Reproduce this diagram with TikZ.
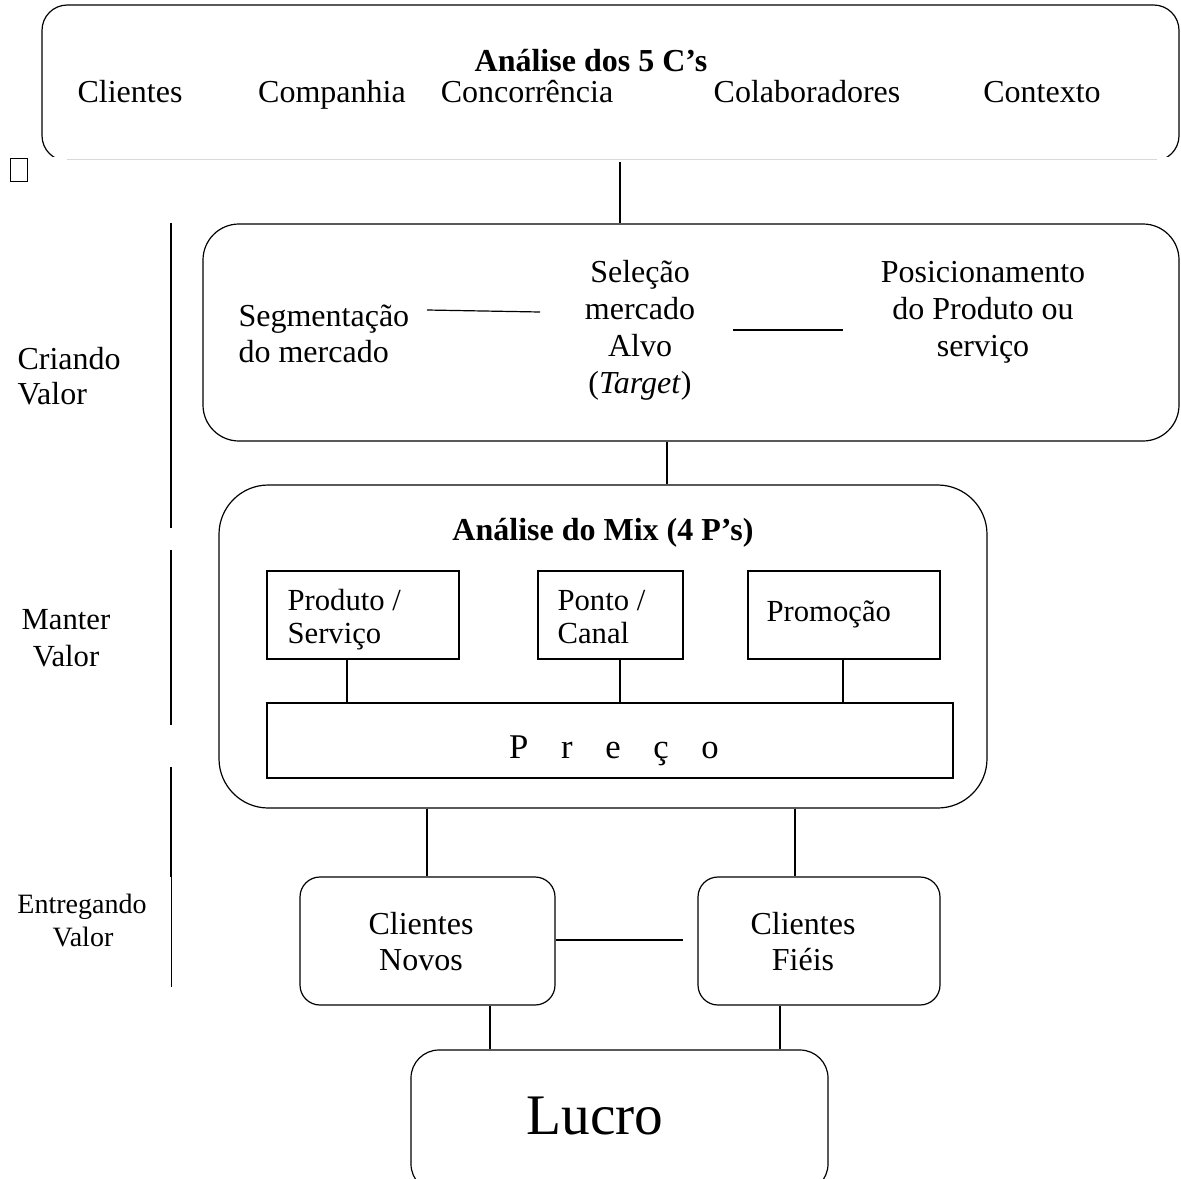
\documentclass[tikz,border=0pt]{standalone}
\usepackage{fontspec}
\setmainfont{Liberation Serif}
\usetikzlibrary{fit}
\begin{document}
\begin{tikzpicture}[x=0.75pt,y=-0.75pt,line width=0.9pt,
  rbox/.style={draw,inner sep=0pt,rounded corners=#1},
  sbox/.style={draw,inner sep=0pt},
  txt/.style={inner sep=0pt,anchor=base,font=\fontsize{24}{28}\selectfont},
  txtl/.style={txt,anchor=base west},
  small/.style={font=\fontsize{23}{27}\selectfont},
  conn/.style={line width=0.9pt},
  sep/.style={line width=0.9pt}]
\useasboundingbox (0,0) rectangle (1181,1178);
\fill[white] (0,0) rectangle (1181,1178);
% top box (bottom clipped)
\begin{scope}
\clip (0,0) rectangle (1181,156.5);
\node[rbox=19pt,fit={(42,5) (1179,161)}] (top) {};
\end{scope}
\coordinate (gA) at (67,159);
\coordinate (gB) at (1157,159);
\draw[line width=0.6pt,black!15] (gA) -- (gB);
\node[draw,line width=0.6pt,inner sep=0pt,fit={(10,158) (27,181)}] (sq) {};
\node[txt] (t5c) at (591,71) {\textbf{Análise dos 5 C’s}};
\node[txt] (c1) at (130,102) {Clientes};
\node[txt] (c2) at (332,102) {Companhia};
\node[txt] (c3) at (527,102) {Concorrência};
\node[txt] (c4) at (807,102) {Colaboradores};
\node[txt] (c5) at (1042,102) {Contexto};
% STP box
\node[rbox=27pt,fit={(203,224) (1179,441)}] (stp) {};
\node[txtl] (s1a) at (238,326) {Segmentação};
\node[txtl] (s1b) at (238,362) {do mercado};
\node[txt] (s2a) at (640,282) {Seleção};
\node[txt] (s2b) at (640,319) {mercado};
\node[txt] (s2c) at (640,356) {Alvo};
\node[txt] (s2d) at (640,393) {(\textit{Target})};
\node[txt] (s3a) at (983,282) {Posicionamento};
\node[txt] (s3b) at (983,319) {do Produto ou};
\node[txt] (s3c) at (983,356) {serviço};
\coordinate (la) at (427,310);
\coordinate (lb) at (540,312);
\coordinate (lc) at (733,330);
\coordinate (ld) at (843,330);
\draw[conn] (la) -- (lb);
\draw[conn] (lc) -- (ld);
% Mix box
\node[rbox=37pt,fit={(219,485) (987,808)}] (mix) {};
\node[txt] (mixt) at (603,540) {\textbf{Análise do Mix (4 P’s)}};
\node[sbox,fit={(267,571) (459,659)}] (prod) {};
\node[sbox,fit={(538,571) (683,659)}] (ponto) {};
\node[sbox,fit={(748,571) (940,659)}] (promo) {};
\node[sbox,fit={(267,703) (953,778)}] (preco) {};
\node[txtl,small] (p1a) at (287,610) {Produto /};
\node[txtl,small] (p1b) at (287,643) {Serviço};
\node[txtl,small] (p2a) at (557,610) {Ponto /};
\node[txtl,small] (p2b) at (557,643) {Canal};
\node[txtl,small] (p3) at (766,621) {Promoção};
\node[txt,font=\fontsize{26}{30}\selectfont] (pr) at (614,758) {P\hspace{24.5pt}r\hspace{24.5pt}e\hspace{24.5pt}ç\hspace{24.5pt}o};
\draw[conn] (prod.south -| 347,0) -- (preco.north -| 347,0);
\draw[conn] (ponto.south -| 620,0) -- (preco.north -| 620,0);
\draw[conn] (promo.south -| 843,0) -- (preco.north -| 843,0);
% clients
\node[rbox=15pt,fit={(300,877) (555,1005)}] (novos) {};
\node[rbox=15pt,fit={(698,877) (940,1005)}] (fieis) {};
\node[txt] (n1) at (421,934) {Clientes};
\node[txt] (n2) at (421,970) {Novos};
\node[txt] (f1) at (803,934) {Clientes};
\node[txt] (f2) at (803,970) {Fiéis};
\coordinate (fe) at (683,940);
\draw[conn] (novos.east |- fe) -- (fe);
% Lucro
\begin{scope}
\clip (0,0) rectangle (1181,1178);
\node[rbox=21pt,fit={(411,1050) (828,1192)}] (lucro) {};
\end{scope}
\node[txt,font=\fontsize{43}{50}\selectfont] (lu) at (595,1134) {Lucro};
% connectors
\draw[conn] (top.south -| 620,0) -- (stp.north -| 620,0);
\draw[conn] (stp.south -| 667,0) -- (mix.north -| 667,0);
\draw[conn] (mix.south -| 427,0) -- (novos.north -| 427,0);
\draw[conn] (mix.south -| 795,0) -- (fieis.north -| 795,0);
\draw[conn] (novos.south -| 490,0) -- (lucro.north -| 490,0);
\draw[conn] (fieis.south -| 780,0) -- (lucro.north -| 780,0);
% side labels
\node[txtl] (cv1) at (17,369) {Criando};
\node[txtl] (cv2) at (17,404) {Valor};
\node[txt,small] (mv1) at (66,629) {Manter};
\node[txt,small] (mv2) at (66,666) {Valor};
\node[txt,font=\fontsize{21}{25}\selectfont] (ev1) at (82,913) {Entregando};
\node[txt,font=\fontsize{21}{25}\selectfont] (ev2) at (83,946) {Valor};
\coordinate (v1a) at (171,223);
\coordinate (v1b) at (171,528);
\coordinate (v2a) at (171,550);
\coordinate (v2b) at (171,725);
\coordinate (v3a) at (171,767);
\coordinate (v3b) at (171,877);
\coordinate (v4b) at (171,987);
\draw[sep] (v1a) -- (v1b);
\draw[sep] (v2a) -- (v2b);
\draw[sep] (v3a) -- (v3b);
\draw[line width=0.5pt] (v3b) -- (v4b);
\end{tikzpicture}
\end{document}
